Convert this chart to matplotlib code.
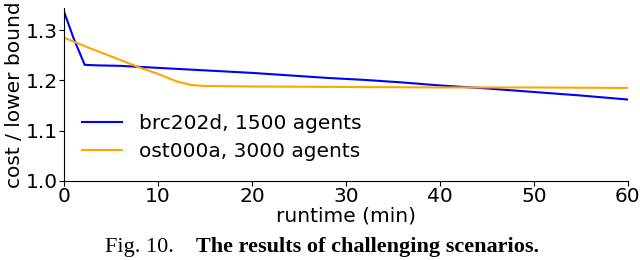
import matplotlib
matplotlib.use("Agg")
import matplotlib.pyplot as plt

# data
blue_x = [0, 1.0, 2.2, 3.5, 6, 10, 15, 20, 24, 28, 32, 36, 40, 45, 50, 55, 60]
blue_y = [1.337, 1.285, 1.231, 1.230, 1.229, 1.225, 1.220, 1.215, 1.210, 1.205, 1.201, 1.196, 1.190, 1.184, 1.177, 1.170, 1.162]
orange_x = [0, 2.5, 5, 8, 10, 12, 13.5, 15, 20, 30, 40, 50, 60]
orange_y = [1.285, 1.266, 1.248, 1.226, 1.213, 1.198, 1.191, 1.189, 1.188, 1.187, 1.186, 1.186, 1.185]
labels = ["brc202d, 1500 agents", "ost000a, 3000 agents"]
xticks = [0, 10, 20, 30, 40, 50, 60]
yticks = [1.0, 1.1, 1.2, 1.3]

fs = 14.5
plt.rcParams['font.family'] = 'DejaVu Sans'
fig = plt.figure(figsize=(6.4, 2.6), dpi=100)
ax = fig.add_axes([0.1, 0.304, 0.881, 0.667])

ax.plot(blue_x, blue_y, color="blue", lw=1.5, label=labels[0])
ax.plot(orange_x, orange_y, color="orange", lw=1.5, label=labels[1])

ax.set_xlim(0, 60)
ax.set_ylim(1.0, 1.345)
ax.set_xticks(xticks)
ax.set_yticks(yticks)
ax.set_yticklabels(["1.0", "1.1", "1.2", "1.3"])
ax.tick_params(labelsize=fs, pad=1)
ax.spines['top'].set_visible(False)
ax.spines['right'].set_visible(False)
ax.set_xlabel("runtime (min)", fontsize=fs, labelpad=0)
ax.set_ylabel("cost / lower bound", fontsize=fs, labelpad=1)

ax.legend(loc="lower left", bbox_to_anchor=(0.0, 0.01), frameon=False, fontsize=fs,
          handlelength=2.0, handletextpad=0.8, borderaxespad=0.5, labelspacing=0.45)

# caption
fig.text(105/640, 1-252/260, "Fig. 10.", family="Liberation Serif", fontsize=16, va="baseline")
fig.text(196/640, 1-252/260, "The results of challenging scenarios.", family="Liberation Serif",
         fontsize=16, fontweight="bold", va="baseline")

fig.savefig("out.png", dpi=100)
